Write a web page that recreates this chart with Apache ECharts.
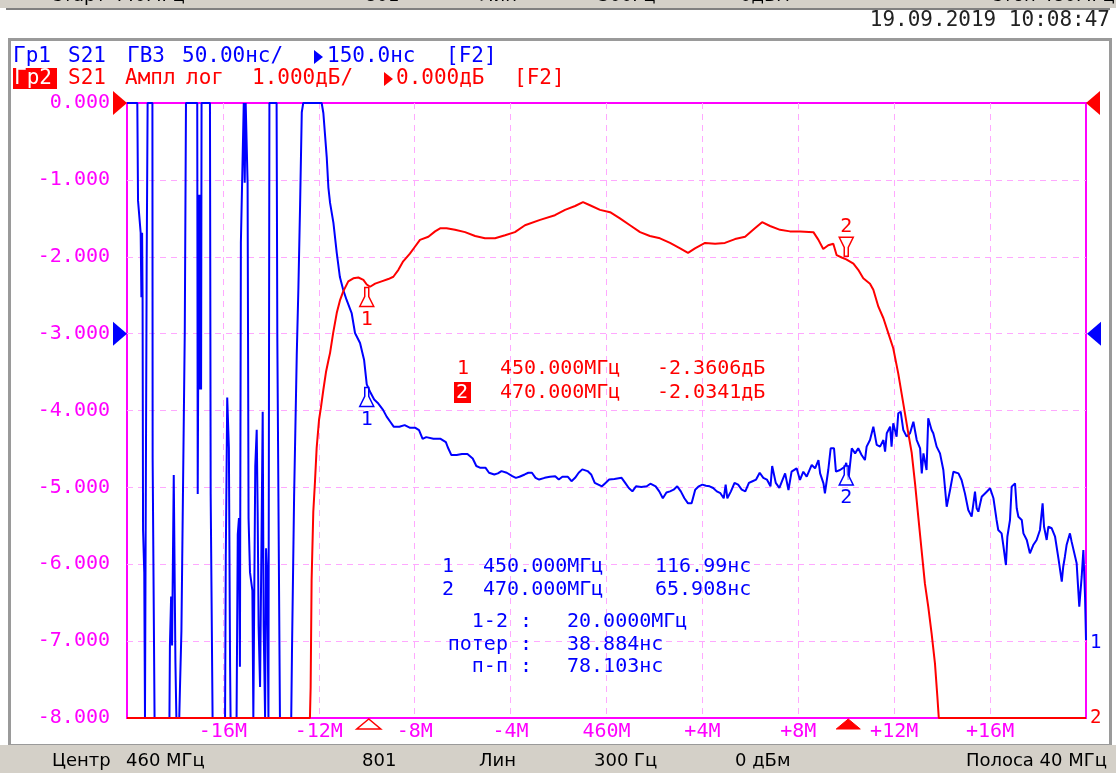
<!DOCTYPE html>
<html><head><meta charset="utf-8">
<script src="https://cdn.jsdelivr.net/npm/echarts@6/dist/echarts.min.js"></script>
<style>html,body{margin:0;padding:0;background:#fff}#c{width:1116px;height:773px}</style>
</head><body><div id="c"></div>
<script>
// ---------- DATA ----------
const xTicks = [440, 444, 448, 452, 456, 460, 464, 468, 472, 476, 480];
const xTickLabels = ['', '-16M', '-12M', '-8M', '-4M', '460M', '+4M', '+8M', '+12M', '+16M', ''];

// Trace 2: S21 amplitude, dB (clamped at the display limit -8 dB as on screen)
const redFreq = [440.00,447.63,447.66,447.70,447.77,447.84,447.91,448.01,448.09,448.19,448.30,448.40,448.47,448.60,448.75,448.89,449.02,449.23,449.44,449.65,449.86,450.00,450.14,450.35,450.62,450.90,451.11,451.32,451.52,451.80,452.01,452.22,452.57,452.85,453.06,453.33,453.68,454.10,454.52,454.93,455.35,455.77,456.18,456.60,457.23,457.85,458.27,458.69,459.02,459.31,459.73,460.15,460.56,460.98,461.40,461.81,462.23,462.65,463.07,463.40,463.69,464.11,464.53,464.94,465.36,465.78,466.19,466.49,466.82,467.24,467.65,468.07,468.63,468.84,469.04,469.25,469.46,469.60,469.81,470.00,470.30,470.50,470.71,470.99,471.13,471.34,471.55,471.76,471.96,472.17,472.31,472.45,472.59,472.73,472.87,473.01,473.14,473.28,473.42,473.56,473.70,473.80,473.86,480.00];
const redDb = [-8,-8,-7.6,-6.21,-5.32,-4.93,-4.49,-4.12,-3.96,-3.73,-3.50,-3.35,-3.25,-2.99,-2.73,-2.56,-2.45,-2.32,-2.28,-2.27,-2.30,-2.3606,-2.39,-2.35,-2.32,-2.29,-2.26,-2.17,-2.06,-1.96,-1.87,-1.78,-1.74,-1.67,-1.63,-1.63,-1.65,-1.68,-1.73,-1.76,-1.76,-1.72,-1.68,-1.59,-1.52,-1.46,-1.39,-1.34,-1.29,-1.33,-1.39,-1.42,-1.50,-1.59,-1.68,-1.73,-1.76,-1.82,-1.89,-1.95,-1.89,-1.82,-1.83,-1.82,-1.77,-1.74,-1.63,-1.55,-1.60,-1.65,-1.67,-1.67,-1.68,-1.78,-1.90,-1.85,-1.83,-1.98,-2.01,-2.0341,-2.09,-2.17,-2.28,-2.35,-2.43,-2.65,-2.80,-3.00,-3.19,-3.52,-3.78,-4.04,-4.30,-4.55,-4.95,-5.40,-5.81,-6.25,-6.55,-6.90,-7.29,-7.72,-8,-8];

// Trace 1: S21 group delay, ns (clamped at the display limits 300 / -100 ns as on screen)
const blueFreq = [440.00,440.43,440.46,440.54,440.57,440.60,440.63,440.65,440.67,440.71,440.72,440.75,440.79,440.82,440.86,441.06,441.07,441.13,441.15,441.77,441.79,441.84,441.88,441.90,441.95,441.99,442.02,442.06,442.18,442.21,442.27,442.35,442.41,442.46,442.93,442.95,442.99,443.00,443.03,443.06,443.09,443.11,443.46,443.49,443.55,443.57,444.09,444.12,444.16,444.18,444.23,444.25,444.30,444.32,444.57,444.62,444.67,444.71,444.75,444.82,444.87,444.91,444.95,445.01,445.03,445.07,445.13,445.20,445.23,445.27,445.31,445.35,445.41,445.45,445.49,445.55,445.60,445.66,445.70,445.76,445.80,445.85,445.90,445.94,446.24,446.27,446.33,446.38,446.85,446.88,446.94,446.97,447.04,447.08,447.15,447.22,447.29,447.35,448.12,448.19,448.33,448.40,448.47,448.61,448.75,448.88,449.02,449.16,449.37,449.51,449.72,449.89,450.00,
450.16,450.31,450.46,450.68,450.83,450.98,451.13,451.36,451.58,451.81,452.03,452.18,452.33,452.48,452.78,453.08,453.30,453.38,453.53,453.75,453.97,454.20,454.42,454.57,454.72,454.80,454.95,455.10,455.32,455.47,455.62,455.84,456.07,456.22,456.37,456.59,456.74,456.89,457.04,457.19,457.42,457.64,457.86,458.01,458.16,458.39,458.54,458.69,458.84,458.99,459.21,459.36,459.51,459.66,459.81,459.96,460.11,460.33,460.63,460.78,460.93,461.08,461.23,461.45,461.68,461.83,462.05,462.20,462.35,462.50,462.65,462.80,462.95,463.10,463.25,463.40,463.55,463.70,463.85,464.00,464.15,464.30,464.45,464.60,464.75,464.89,464.97,465.04,465.19,465.34,465.49,465.64,465.79,465.94,466.09,466.24,466.39,466.54,466.69,466.84,466.91,467.06,467.21,
467.45,467.59,467.72,467.93,468.07,468.21,468.35,468.56,468.70,468.84,468.91,469.05,469.11,469.25,469.35,469.49,469.57,469.74,469.95,470.00,470.09,470.23,470.37,470.50,470.64,470.78,470.85,470.99,471.13,471.27,471.41,471.55,471.62,471.69,471.83,471.89,471.96,472.10,472.17,472.27,472.38,472.52,472.66,472.80,472.94,473.08,473.15,473.22,473.35,473.42,473.56,473.63,473.77,473.91,474.05,474.19,474.33,474.47,474.68,474.81,474.95,475.09,475.23,
475.37,475.44,475.51,475.65,475.86,476.00,476.14,476.27,476.34,476.48,476.55,476.66,476.72,476.83,476.90,477.04,477.11,477.18,477.32,477.39,477.53,477.66,477.80,477.94,478.08,478.19,478.25,478.36,478.43,478.57,478.71,478.85,478.99,479.05,479.12,479.19,479.33,479.40,479.47,479.61,479.72,479.82,479.89,479.96,480.00];
const blueNs = [300,300,236.5,236.5,215.6,173.7,215.6,173.7,22.1,22.1,-5.3,-100,-100,193.3,300,300,67.9,67.9,-100,-100,-52.9,-21.0,-52.9,-21.0,58.0,58.0,-64.1,-100,-100,-79.8,-43.2,-43.2,151.5,300,300,45.7,45.7,240.4,113.6,240.4,113.6,300,300,45.7,45.7,-100,-100,3.8,3.8,108.4,108.4,75.7,-66.7,-100,-100,19.5,30.0,-66.7,209.0,209.0,300,248.2,300,300,248.2,30.0,-5.3,-5.3,-17.1,-100,-17.1,63.9,87.5,33.9,-40.6,-79.8,0,99.2,-40.6,-100,10.4,-10.5,-100,300,300,147.6,147.6,-100,-100,-58.9,-58.9,44.3,44.3,135.8,180.3,233.9,294,300,300,293.5,265,245,235,222,202.4,186.8,178.4,171.9,163.4,150.4,143.9,132.8,116.99,
111.5,107.1,104.9,100.4,96.0,92.7,89.4,89.4,90.5,88.7,88.7,87.2,81.6,82.7,81.6,81.6,79.4,76.1,71.0,71.0,71.7,71.7,68.8,63.9,62.8,61.7,62.8,59.5,58.4,59.1,60.6,59.5,57.3,56.2,56.9,58.4,59.5,59.5,56.2,55.1,56.2,56.9,57.3,55.1,56.9,56.9,54.0,56.2,59.5,61.7,60.6,58.4,52.9,51.8,50.7,52.9,55.1,55.5,56.2,52.9,49.6,47.4,50.7,50.2,50.7,52.4,50.7,47.4,42.9,46.7,47.4,48.5,50.7,47.4,42.9,39.6,39.6,48.5,50.7,51.8,51.1,50.7,49.6,47.4,46.2,42.9,51.8,42.9,47.4,52.9,51.8,48.5,47.4,52.9,54.0,55.1,59.5,56.2,55.1,50.7,63.9,52.9,49.6,
59.1,48.3,60.2,62.4,54.8,60.2,57.0,64.6,62.4,67.8,59.1,52.6,46.1,61.3,75.4,75.4,60.2,61.3,63.5,65.908,54.8,75.4,72.1,75.4,71.1,67.8,76.5,80.8,89.5,77.6,76.5,80.8,73.2,85.2,89.5,76.5,91.7,83.0,98.2,99.2,87.3,83.0,85.2,92.7,80.8,75.4,59.1,72.1,61.3,94.9,87.3,85.2,76.5,72.1,61.3,37.4,48.3,60.2,59.1,54.8,46.1,35.3,31.0,
47.2,36.4,34.2,43.9,47.2,49.4,42.9,28.8,22.3,20.1,12.5,-0.5,17.9,28.8,50.5,52.6,36.4,30.9,28.8,20.1,15.8,7.1,12.5,15.8,22.3,39.6,24.4,15.8,24.4,23.4,17.9,3.8,-11.3,-1.6,4.9,12.5,20.1,14.7,15.8,0.6,-27.6,-8.1,9.3,-21.1,-49.3];

// Markers
const markerFreq = [450.000, 470.000];
const markerDb = [-2.3606, -2.0341];
const markerNs = [116.99, 65.908];
const statLines = [['1-2 :', '20.0000МГц'], ['потер :', '38.884нс'], ['п-п :', '78.103нс']];
const statusItems = ['Центр', '460 МГц', '801', 'Лин', '300 Гц', '0 дБм', 'Полоса 40 МГц'];
const topItems = ['Старт 440МГц', '801', 'Лин', '300Гц', '0дБм', 'Стоп 480МГц'];
const dateText = '19.09.2019 10:08:47';

// ---------- CHART ----------
const MONO = '"DejaVu Sans Mono", monospace';
const SANS = '"DejaVu Sans", sans-serif';
const MAG = '#ff00ff', RED = '#ff0000', BLUE = '#0000ff', GRIDC = '#ffa8ff';

const chart = echarts.init(document.getElementById('c'));
chart.setOption({
  animation: false,
  backgroundColor: '#ffffff',
  grid: {left: 127, right: 30, top: 103, bottom: 55, show: true, borderColor: MAG, borderWidth: 2, backgroundColor: '#ffffff'},
  xAxis: {
    type: 'value', min: 440, max: 480, interval: 4,
    axisLine: {show: false}, axisTick: {show: false},
    splitLine: {show: true, showMinLine: false, showMaxLine: false, lineStyle: {color: GRIDC, type: [6, 5], width: 1}},
    axisLabel: {color: MAG, fontFamily: MONO, fontSize: 20, margin: 4,
      formatter: v => { const i = xTicks.indexOf(Math.round(v)); return i >= 0 ? xTickLabels[i] : ''; }}
  },
  yAxis: [
    {type: 'value', min: -8, max: 0, interval: 1, position: 'left',
     axisLine: {show: false}, axisTick: {show: false},
     splitLine: {show: true, showMinLine: false, showMaxLine: false, lineStyle: {color: GRIDC, type: [6, 5], width: 1}},
     axisLabel: {color: MAG, fontFamily: MONO, fontSize: 20, margin: 17, formatter: v => v.toFixed(3)}},
    {type: 'value', min: -100, max: 300, interval: 50, position: 'right',
     axisLine: {show: false}, axisTick: {show: false}, splitLine: {show: false}, axisLabel: {show: false}}
  ],
  series: [
    {type: 'line', name: 'ГВЗ', yAxisIndex: 1, symbol: 'none', z: 3,
     lineStyle: {color: BLUE, width: 2}, data: blueFreq.map((f, i) => [f, blueNs[i]])},
    {type: 'line', name: 'Ампл', yAxisIndex: 0, symbol: 'none', z: 4,
     lineStyle: {color: RED, width: 2}, data: redFreq.map((f, i) => [f, redDb[i]])}
  ]
});

function T(x, y, text, fill, size, align, family, weight) {
  return {type: 'text', x: x, y: y, z: 100, silent: true,
    style: {text: text, fill: fill, font: (weight || 'normal') + ' ' + (size || 20) + 'px ' + (family || MONO),
      align: align || 'left', verticalAlign: 'middle', textAlign: align || 'left', textVerticalAlign: 'middle'}};
}
function R(x, y, w, h, fill, stroke, lw) {
  return {type: 'rect', z: 90, silent: true, shape: {x: x, y: y, width: w, height: h},
    style: {fill: fill || 'none', stroke: stroke || null, lineWidth: lw || 0}};
}
function P(points, fill, stroke, lw) {
  return {type: 'polygon', z: 100, silent: true, shape: {points: points},
    style: {fill: fill || 'none', stroke: stroke || null, lineWidth: lw || 1}};
}

const g = [];
// top strip (cut-off previous status line)
g.push(R(0, 0, 1116, 8, '#d4d0c8'));
g.push({type: 'line', z: 91, shape: {x1: 6, y1: 9, x2: 1110, y2: 9}, style: {stroke: '#808080', lineWidth: 2}});
const topX = [50, 365, 480, 598, 740, 990];
topItems.forEach((t, i) => g.push(T(topX[i], -4, t, '#000', 18, 'left', SANS)));
// date
g.push(T(1110, 21, dateText, '#222', 21, 'right', MONO));
// panel frame
g.push(R(9.5, 39.5, 1101, 706, 'none', '#9a9a9a', 3));
// status bar
g.push(R(0, 745, 1116, 28, '#d4d0c8'));
const stX = [52, 126, 362, 479, 594, 735, 1107];
statusItems.forEach((t, i) => g.push(T(stX[i], 761, t, '#000', 18, i === 6 ? 'right' : 'left', SANS)));

// header line 1 (blue)
[['Гр1', 13], ['S21', 68], ['ГВЗ', 127], ['50.00нс/', 182], ['150.0нс', 327], ['[F2]', 446]]
  .forEach(s => g.push(T(s[1], 57, s[0], BLUE, 21)));
g.push(P([[314, 50], [323, 57], [314, 64]], BLUE));
// header line 2 (red)
g.push(R(13, 68, 44, 21, RED));
g.push(T(14, 79, 'Гр2', '#fff', 21));
[['S21', 68], ['Ампл', 125], ['лог', 186], ['1.000дБ/', 252], ['0.000дБ', 396], ['[F2]', 514]]
  .forEach(s => g.push(T(s[1], 79, s[0], RED, 21)));
g.push(P([[384, 72], [393, 79], [384, 86]], RED));

// amplitude marker readout (red)
const mhz = f => f.toFixed(3) + 'МГц';
g.push(T(457, 369, '1', RED, 20));
g.push(T(500, 369, mhz(markerFreq[0]), RED, 20));
g.push(T(657, 369, markerDb[0].toFixed(4) + 'дБ', RED, 20));
g.push(R(454, 382, 17, 21, RED));
g.push(T(456, 393, '2', '#fff', 20));
g.push(T(500, 393, mhz(markerFreq[1]), RED, 20));
g.push(T(657, 393, markerDb[1].toFixed(4) + 'дБ', RED, 20));
// delay marker readout (blue)
g.push(T(442, 567, '1', BLUE, 20));
g.push(T(483, 567, mhz(markerFreq[0]), BLUE, 20));
g.push(T(655, 567, markerNs[0].toPrecision(5) + 'нс', BLUE, 20));
g.push(T(442, 590, '2', BLUE, 20));
g.push(T(483, 590, mhz(markerFreq[1]), BLUE, 20));
g.push(T(655, 590, markerNs[1].toPrecision(5) + 'нс', BLUE, 20));
const statY = [622, 645, 667];
statLines.forEach((s, i) => {
  g.push(T(532, statY[i], s[0], BLUE, 20, 'right'));
  g.push(T(567, statY[i], s[1], BLUE, 20));
});

// pixel helpers from the library's scales
const xPx = f => chart.convertToPixel({xAxisIndex: 0}, f);
const yDb = v => chart.convertToPixel({yAxisIndex: 0}, v);
const yNs = v => chart.convertToPixel({yAxisIndex: 1}, v);
const gL = xPx(440), gR = xPx(480), gB = yDb(-8);

// trace markers
function pinBelow(x, y, color, label) {
  g.push(P([[x - 2, y + 3], [x + 2, y + 3], [x + 2, y + 12], [x + 7, y + 22], [x - 7, y + 22], [x - 2, y + 12]], 'rgba(255,255,255,0.7)', color, 1.5));
  g.push(T(x, y + 35, label, color, 20, 'center'));
}
function pinAbove(x, y, color, label) {
  g.push(P([[x - 2, y - 3], [x + 2, y - 3], [x + 2, y - 12], [x + 7, y - 22], [x - 7, y - 22], [x - 2, y - 12]], 'rgba(255,255,255,0.7)', color, 1.5));
  g.push(T(x, y - 33, label, color, 20, 'center'));
}
pinBelow(xPx(markerFreq[0]), yDb(markerDb[0]), RED, '1');
pinAbove(xPx(markerFreq[1]), yDb(markerDb[1]), RED, '2');
pinBelow(xPx(markerFreq[0]), yNs(markerNs[0]), BLUE, '1');
pinBelow(xPx(markerFreq[1]), yNs(markerNs[1]), BLUE, '2');

// stimulus markers under the axis
const m1 = xPx(markerFreq[0]) + 2, m2 = xPx(markerFreq[1]) + 2;
g.push(P([[m1, gB + 1], [m1 - 12, gB + 11], [m1 + 12, gB + 11]], 'none', RED, 1.5));
g.push(P([[m2, gB + 1], [m2 - 12, gB + 11], [m2 + 12, gB + 11]], RED, RED, 1));

// reference level arrows
const yr = yDb(0), yb = yNs(150);
g.push(P([[gL - 14, yr - 12], [gL, yr], [gL - 14, yr + 12]], RED));
g.push(P([[gL - 14, yb - 12], [gL, yb], [gL - 14, yb + 12]], BLUE));
g.push(P([[gR + 14, yr - 12], [gR, yr], [gR + 14, yr + 12]], RED));
g.push(P([[gR + 15, yb - 12], [gR + 1, yb], [gR + 15, yb + 12]], BLUE));

// trace end labels
g.push(T(gR + 4, yNs(blueNs[blueNs.length - 1]) + 3, '1', BLUE, 19));
g.push(T(gR + 4, yDb(redDb[redDb.length - 1]), '2', RED, 19));

chart.setOption({graphic: g});
</script>
</body></html>
